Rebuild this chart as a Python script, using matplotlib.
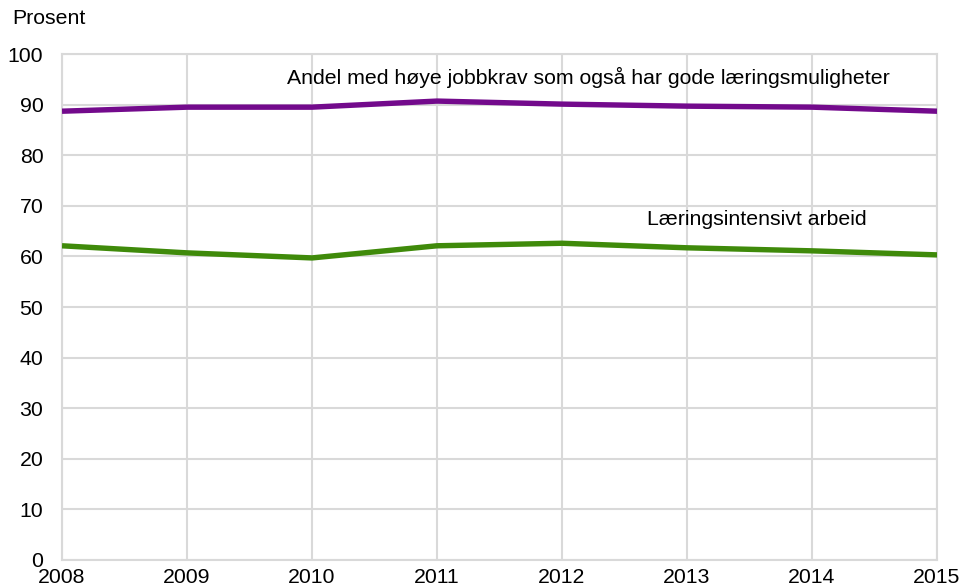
import numpy as np
import matplotlib
matplotlib.use('Agg')
from matplotlib import pyplot as plt

plt.rcParams['font.family'] = ['Liberation Sans', 'DejaVu Sans']

# Data.
YEARS = [2008, 2009, 2010, 2011, 2012, 2013, 2014, 2015]
HIGH_DEMAND = [88.7, 89.5, 89.5, 90.7, 90.1, 89.7, 89.5, 88.7]
LEARNING_INT = [62.1, 60.7, 59.7, 62.1, 62.6, 61.7, 61.1, 60.3]

LABEL_HIGH = 'Andel med høye jobbkrav som også har gode læringsmuligheter'
LABEL_LEARN = 'Læringsintensivt arbeid'

GRID_COL = '#d9d9d9'
FONT_SIZE = 15.3

FIG = plt.figure(figsize=(9.6, 5.86), dpi=100)
AX = FIG.add_axes([0.0646, 0.0444, 0.9115, 0.8634])

AX.plot(YEARS, HIGH_DEMAND, color='#730a8c', linewidth=3.9,
        solid_capstyle='butt', zorder=3)
AX.plot(YEARS, LEARNING_INT, color='#3f8a0a', linewidth=3.9,
        solid_capstyle='butt', zorder=3)

AX.set_xlim(2008, 2015)
AX.set_ylim(0, 100)
AX.set_xticks(YEARS)
AX.set_yticks(np.arange(0, 101, 10))

# Grid in both directions, frame in the same grey.
AX.grid(True, color=GRID_COL, linewidth=1.5, zorder=0)
AX.set_axisbelow(True)
for side in AX.spines.values():
    side.set_color(GRID_COL)
    side.set_linewidth(1.5)

AX.tick_params(axis='both', length=0, labelsize=FONT_SIZE, colors='black')
AX.tick_params(axis='x', pad=6)
AX.tick_params(axis='y', pad=13.5)

# Line labels.
AX.text(2009.8, 95.3, LABEL_HIGH, fontsize=FONT_SIZE, va='center', ha='left')
AX.text(2012.68, 67.2, LABEL_LEARN, fontsize=FONT_SIZE, va='center',
        ha='left')

FIG.text(12 / 960, 1 - 19 / 586, 'Prosent', fontsize=FONT_SIZE, va='center',
         ha='left')

plt.savefig('out.png', dpi=100)
